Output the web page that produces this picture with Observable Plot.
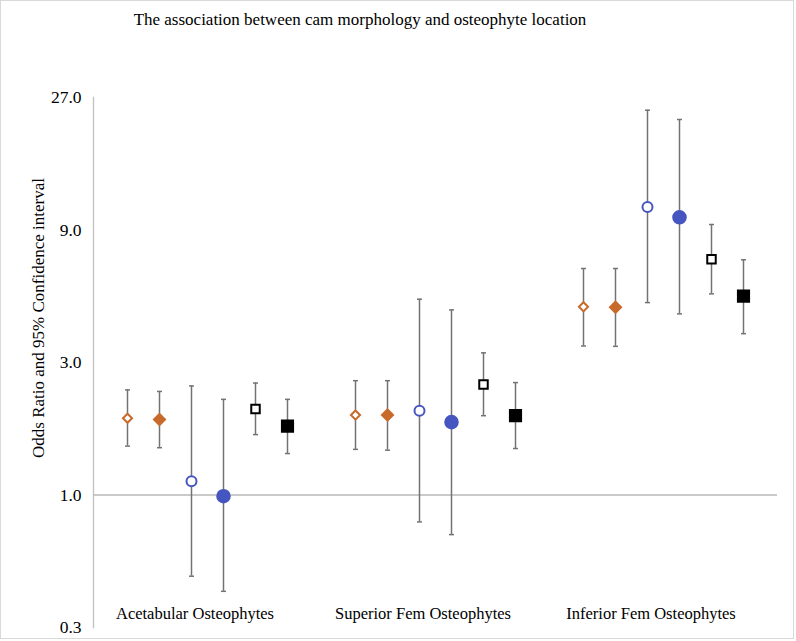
<!DOCTYPE html>
<html><head><meta charset="utf-8">
<script src="https://cdn.jsdelivr.net/npm/d3@7"></script>
<script src="https://cdn.jsdelivr.net/npm/@observablehq/plot@0.6"></script>
<style>
body{margin:0;background:#fff;}
#chart{position:relative;width:794px;height:639px;border:1px solid #d9d9d9;box-sizing:border-box;font-family:"Liberation Serif","Times New Roman",serif;color:#000;}
#title{height:38px;line-height:38px;text-align:center;font-size:17px;padding-right:74px;}
#ylabel{position:absolute;left:38px;top:317px;transform:translate(-50%,-50%) rotate(-90deg);white-space:nowrap;font-size:17px;}
#chart svg{display:block;overflow:visible;}
</style></head>
<body><div id="chart"><div id="title">The association between cam morphology and osteophyte location</div><div id="ylabel"></div></div>
<script>
const groups = ["Acetabular Osteophytes", "Superior Fem Osteophytes", "Inferior Fem Osteophytes"];
const series = ["Series 1", "Series 2", "Series 3", "Series 4", "Series 5", "Series 6"];
// odds ratios per series, in group order
const or1 = [1.89, 1.94, 4.76];
const or2 = [1.87, 1.94, 4.74];
const or3 = [1.12, 2.01, 10.9];
const or4 = [0.99, 1.83, 10.0];
const or5 = [2.04, 2.50, 7.06];
const or6 = [1.77, 1.93, 5.20];
const lo1 = [1.50, 1.46, 3.44];
const lo2 = [1.48, 1.45, 3.43];
const lo3 = [0.51, 0.80, 4.93];
const lo4 = [0.45, 0.72, 4.49];
const lo5 = [1.65, 1.93, 5.30];
const lo6 = [1.41, 1.47, 3.81];
const hi1 = [2.39, 2.58, 6.54];
const hi2 = [2.36, 2.58, 6.54];
const hi3 = [2.47, 5.07, 24.3];
const hi4 = [2.21, 4.64, 22.5];
const hi5 = [2.53, 3.25, 9.42];
const hi6 = [2.21, 2.54, 7.03];
const yTicks = [1/3, 1, 3, 9, 27];
const yLabel = "Odds Ratio and 95% Confidence interval";

document.getElementById("ylabel").textContent = yLabel;

// styles per series
const ORANGE = "#c86a2b", BLUE = "#4656c0";
const style = {
  "Series 1": {symbol: "diamond2", stroke: ORANGE, fill: "white", r: 4.1},
  "Series 2": {symbol: "diamond2", stroke: ORANGE, fill: ORANGE, r: 5},
  "Series 3": {symbol: "circle", stroke: BLUE, fill: "white", r: 5},
  "Series 4": {symbol: "circle", stroke: BLUE, fill: BLUE, r: 6.3},
  "Series 5": {symbol: "square2", stroke: "black", fill: "white", r: 5.4},
  "Series 6": {symbol: "square2", stroke: "black", fill: "black", r: 7.1}
};

const ors = [or1, or2, or3, or4, or5, or6];
const los = [lo1, lo2, lo3, lo4, lo5, lo6];
const his = [hi1, hi2, hi3, hi4, hi5, hi6];
const rows = [];
groups.forEach((g, gi) => series.forEach((s, si) => rows.push({group: g, series: s, or: ors[si][gi], lo: los[si][gi], hi: his[si][gi]})));

const capSymbol = {draw(ctx, size) { const w = Math.sqrt(size); ctx.moveTo(-w / 2, 0); ctx.lineTo(w / 2, 0); }};
const BAR = "#737373";

const plot = Plot.plot({
  width: 792,
  height: 599,
  marginLeft: 91,
  marginRight: 15,
  marginTop: 58,
  marginBottom: 11,
  style: {fontFamily: "'Liberation Serif','Times New Roman',serif", fontSize: "17px", color: "#000", background: "transparent"},
  fx: {domain: groups, padding: 0, axis: null},
  x: {domain: series, type: "point", padding: 1, axis: null},
  y: {type: "log", base: 3, domain: [1/3, 27], ticks: yTicks, tickFormat: d3.format(".1f"), label: null},
  symbol: {type: "identity"},
  r: {type: "identity"},
  marks: [
    Plot.frame({anchor: "left", stroke: "#c0c0c0", strokeWidth: 1.3, fx: () => groups[0]}),
    Plot.ruleY([1], {stroke: "#b8b8b8", strokeWidth: 1.3}),
    Plot.axisY({ticks: yTicks, tickFormat: d3.format(".1f"), tickSize: 0, tickPadding: 12, fontSize: 17.5, label: null}),
    Plot.text(groups, {fx: d => d, text: d => d, frameAnchor: "bottom", dx: -12.5, dy: -9, fontSize: 16.5}),
    Plot.ruleX(rows, {fx: "group", x: "series", y1: "lo", y2: "hi", stroke: BAR, strokeWidth: 1.5}),
    Plot.dot(rows, {fx: "group", x: "series", y: "lo", symbol: () => capSymbol, r: 2.8, stroke: BAR, strokeWidth: 1.5}),
    Plot.dot(rows, {fx: "group", x: "series", y: "hi", symbol: () => capSymbol, r: 2.8, stroke: BAR, strokeWidth: 1.5}),
    Plot.dot(rows, {fx: "group", x: "series", y: "or",
      symbol: d => style[d.series].symbol,
      r: d => style[d.series].r,
      stroke: d => style[d.series].stroke,
      fill: d => style[d.series].fill,
      strokeWidth: 2})
  ]
});
document.getElementById("chart").appendChild(plot);
</script>
</body></html>
